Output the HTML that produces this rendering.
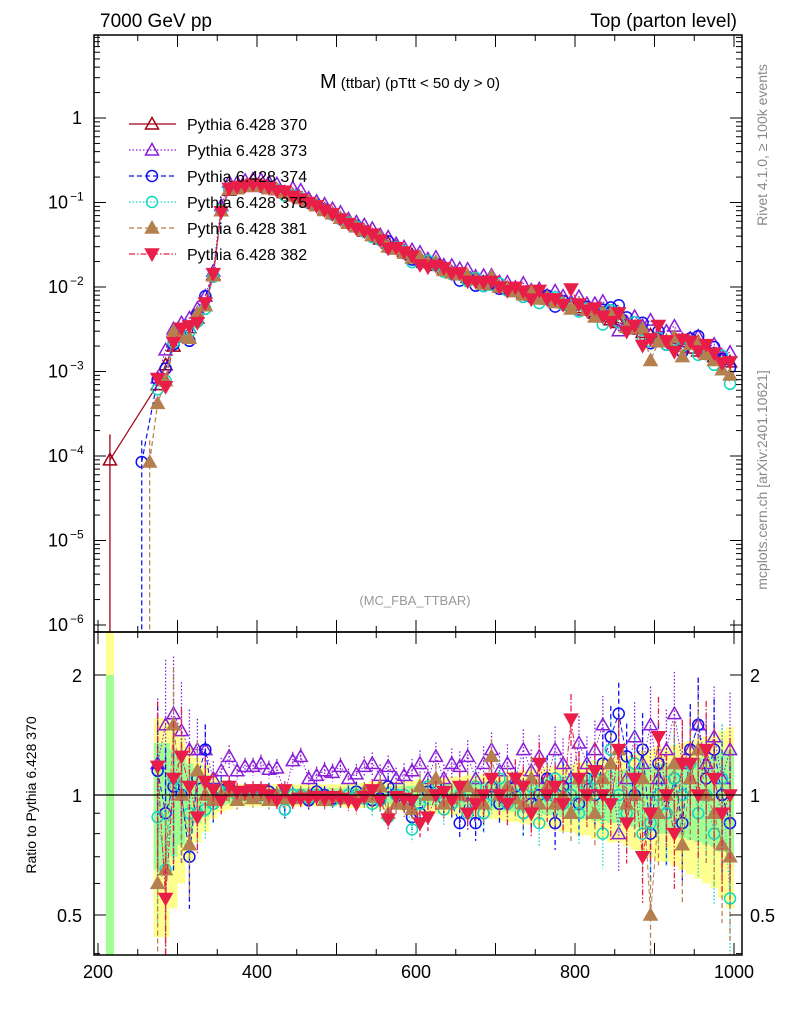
<!DOCTYPE html>
<html><head><meta charset="utf-8"><style>
body{margin:0;background:#fff;}
svg{display:block;font-family:"Liberation Sans",sans-serif;}
</style></head><body>
<svg id="c" width="786" height="1024" xmlns="http://www.w3.org/2000/svg">
<defs>
<clipPath id="cm"><rect x="94" y="35" width="648" height="597"/></clipPath>
<clipPath id="cr"><rect x="94" y="632" width="648" height="323"/></clipPath>
</defs>
<g id="bands" clip-path="url(#cr)"></g>
<g id="ratio" clip-path="url(#cr)"></g>
<g id="main" clip-path="url(#cm)"></g>
<g id="axes"></g>
<text x="100" y="27" font-size="19">7000 GeV pp</text>
<text x="737" y="27" font-size="19" text-anchor="end">Top (parton level)</text>
<text x="410" y="88" text-anchor="middle"><tspan font-size="20">M</tspan><tspan font-size="15"> (ttbar) (pTtt &lt; 50 dy &gt; 0)</tspan></text>
<text x="415" y="605" font-size="13" fill="#999" text-anchor="middle">(MC_FBA_TTBAR)</text>
<text transform="translate(767,145) rotate(-90)" font-size="14" fill="#888" text-anchor="middle">Rivet 4.1.0, ≥ 100k events</text>
<text transform="translate(767,480) rotate(-90)" font-size="14" fill="#888" text-anchor="middle">mcplots.cern.ch [arXiv:2401.10621]</text>
<text transform="translate(36,795) rotate(-90)" font-size="14" text-anchor="middle">Ratio to Pythia 6.428 370</text>
<g id="legend"></g>
</svg>
<script>
const centers=[275,285,295,305,315,325,335,345,355,365,375,385,395,405,415,425,435,445,455,465,475,485,495,505,515,525,535,545,555,565,575,585,595,605,615,625,635,645,655,665,675,685,695,705,715,725,735,745,755,765,775,785,795,805,815,825,835,845,855,865,875,885,895,905,915,925,935,945,955,965,975,985,995];
const ref370=[7e-4,1.2e-3,2e-3,2.6e-3,3.3e-3,4.3e-3,6e-3,
1.4e-2,8e-2,1.4e-1,1.5e-1,1.55e-1,1.6e-1,1.55e-1,1.5e-1,1.42e-1,1.32e-1,1.22e-1,1.12e-1,
1.02e-1,9.2e-2,8.3e-2,7.4e-2,6.5e-2,5.8e-2,5.2e-2,4.6e-2,4.1e-2,3.7e-2,3.3e-2,2.95e-2,
2.65e-2,2.4e-2,2.15e-2,1.95e-2,1.8e-2,1.65e-2,1.5e-2,1.4e-2,1.3e-2,1.22e-2,1.14e-2,1.06e-2,
1.0e-2,9.5e-3,9e-3,8.5e-3,8e-3,7.6e-3,7.2e-3,6.9e-3,6.5e-3,6.1e-3,5.7e-3,5.3e-3,
4.9e-3,4.5e-3,4.1e-3,3.8e-3,3.5e-3,3.2e-3,2.9e-3,2.7e-3,2.5e-3,2.3e-3,2.15e-3,2e-3,
1.9e-3,1.75e-3,1.6e-3,1.5e-3,1.4e-3,1.3e-3];
const firstBin370=[215,9e-5];
const lowPts=[[255,8.5e-5,'s374'],[265,8.5e-5,'s381']];
const r373=[1.2,1.5,1.6,1.45,1.3,1.3,1.3,
1.1,1.15,1.25,1.15,1.18,1.18,1.2,1.16,1.17,1.0,1.22,1.25,
1.1,1.12,1.15,1.14,1.18,1.1,1.13,1.18,1.2,1.12,1.18,1.1,
1.12,1.15,1.2,1.1,1.25,1.1,1.2,1.18,1.25,1.1,1.2,1.3,
1.15,1.2,1.1,1.3,1.15,1.25,1.1,1.3,1.2,1.1,1.35,1.2,
1.3,1.5,1.2,0.8,1.1,1.4,1.2,1.5,1.1,1.3,1.6,1.2,
1.3,1.5,1.2,1.4,1.1,1.3];
const r374=[1.15,0.9,1.05,1.0,0.7,1.1,1.3,
0.95,1.03,1.05,1.0,1.02,1.0,1.0,1.02,1.0,0.92,1.0,1.0,
0.97,1.02,1.0,0.98,0.98,1.0,1.02,1.0,0.97,0.98,1.05,1.0,
0.95,0.88,0.9,1.02,1.05,0.98,0.95,0.85,1.0,0.85,0.9,1.05,
0.95,1.0,1.05,0.9,0.95,1.0,1.1,0.85,1.05,1.0,0.95,1.1,
1.0,1.2,1.4,1.6,1.25,1.0,1.3,0.8,1.2,0.9,1.1,0.85,
1.3,1.5,1.1,1.3,1.0,0.85];
const r375=[0.88,0.65,1.1,1.05,0.9,0.9,0.92,
0.95,1.02,1.03,1.0,1.02,1.0,1.02,0.98,1.0,0.92,1.0,1.0,
0.98,1.0,0.98,0.97,0.98,1.0,1.0,0.98,0.95,0.97,0.88,1.0,
1.0,0.82,0.95,1.05,1.0,0.92,0.95,1.0,0.9,1.05,0.9,1.0,
1.1,0.95,1.0,0.9,1.05,0.85,1.0,1.1,0.95,1.0,0.9,1.05,
1.1,0.8,1.3,1.0,0.9,1.2,0.8,0.85,1.0,0.9,1.1,1.0,
1.2,0.9,1.0,0.8,1.1,0.55];
const r381=[0.6,0.65,1.5,1.0,0.75,1.15,1.0,
0.97,1.0,1.02,0.97,1.0,0.98,1.0,0.97,1.0,0.98,0.98,1.0,
1.0,1.0,0.97,0.99,1.0,0.98,0.99,1.02,0.99,1.05,0.9,0.95,
0.95,0.92,1.05,1.0,1.1,0.95,0.98,1.0,1.05,1.0,0.95,1.25,
1.0,1.05,0.98,0.95,1.1,0.95,1.05,0.95,1.0,0.9,1.1,1.0,
0.9,1.1,1.2,1.3,0.95,1.0,1.1,0.5,0.9,1.0,1.2,0.75,
1.1,1.3,1.0,0.9,0.75,0.7];
const r382=[1.18,0.55,1.1,1.25,1.05,0.88,1.08,
1.03,0.97,1.05,1.02,1.02,1.03,1.03,1.0,0.97,1.03,0.97,0.98,
0.98,0.99,0.98,0.99,0.98,0.97,0.95,0.99,1.03,0.97,0.87,0.99,
0.98,0.97,0.85,0.88,1.0,1.02,0.97,1.05,0.9,0.95,1.0,1.1,
1.0,0.95,1.1,1.05,0.9,1.2,1.0,1.05,0.95,1.55,1.1,1.0,
1.15,1.0,0.95,1.3,0.85,1.1,0.7,0.9,1.4,1.0,0.8,1.2,
1.2,1.0,1.3,1.1,0.9,1.0];
const relErr=[0.35,0.35,0.3,0.25,0.2,0.15,0.12,
0.08,0.06,0.05,0.04,0.04,0.04,0.04,0.04,0.04,0.04,0.04,0.04,
0.04,0.04,0.04,0.04,0.04,0.045,0.045,0.045,0.05,0.05,0.05,0.05,
0.055,0.055,0.06,0.06,0.065,0.065,0.07,0.07,0.075,0.075,0.08,0.08,
0.085,0.09,0.09,0.095,0.1,0.1,0.11,0.11,0.12,0.12,0.13,0.13,
0.14,0.14,0.15,0.15,0.16,0.17,0.18,0.19,0.2,0.2,0.21,0.22,
0.23,0.24,0.25,0.26,0.28,0.3];
const xTicks=[200,400,600,800,1000];

const NS='http://www.w3.org/2000/svg';
function X(v){return 98+(v-200)*0.795;}
function YM(v){return 118-84.5*Math.log10(v);}
function YR(r){return 795-398.6*Math.log10(r);}
function mk(tag,at,parent){const e=document.createElementNS(NS,tag);for(const k in at)e.setAttribute(k,at[k]);parent.appendChild(e);return e;}

const series=[
 {id:'s370',label:'Pythia 6.428 370',color:'#a00018',dash:'',shape:'tri',fill:false,ratio:null},
 {id:'s373',label:'Pythia 6.428 373',color:'#8a1ed8',dash:'1.5,2',shape:'tri',fill:false,ratio:r373},
 {id:'s374',label:'Pythia 6.428 374',color:'#1010f0',dash:'5,3',shape:'circ',fill:false,ratio:r374},
 {id:'s375',label:'Pythia 6.428 375',color:'#10d8c0',dash:'1.5,2',shape:'circ',fill:false,ratio:r375},
 {id:'s381',label:'Pythia 6.428 381',color:'#b5804f',dash:'5,3',shape:'tri',fill:true,ratio:r381},
 {id:'s382',label:'Pythia 6.428 382',color:'#e81e48',dash:'6,2,1.5,2',shape:'itri',fill:true,ratio:r382}];

function marker(g,s,x,y){
 const f=s.fill?s.color:'none';
 let e;
 if(s.shape==='circ') e=mk('circle',{cx:x,cy:y,r:5.5,fill:f,stroke:s.color,'stroke-width':1.5},g);
 else if(s.shape==='tri') e=mk('path',{d:`M${x},${y-6.5}L${x+6.5},${y+5}L${x-6.5},${y+5}Z`,fill:f,stroke:s.color,'stroke-width':1.5},g);
 else e=mk('path',{d:`M${x},${y+6.5}L${x+6.5},${y-5}L${x-6.5},${y-5}Z`,fill:f,stroke:s.color,'stroke-width':1.5},g);
 
 
}

const gb=document.getElementById('bands');
{const r1=mk('rect',{x:X(210),y:632,width:8,height:323,fill:'#a0ff90'},gb);
 
 const r2=mk('rect',{x:X(210),y:632,width:8,height:43,fill:'#ffff90'},gb);
 }
centers.forEach((c,i)=>{const e=relErr[i];
 const y1=mk('rect',{x:X(c-5),y:YR(1+1.6*e),width:8,height:YR(Math.max(1-1.6*e,0.05))-YR(1+1.6*e),fill:'#ffff90'},gb);
 });
centers.forEach((c,i)=>{const e=relErr[i];
 const g1=mk('rect',{x:X(c-5),y:YR(1+e),width:8,height:YR(1-e)-YR(1+e),fill:'#a0ff90'},gb);
 });

const gr=document.getElementById('ratio');
series.forEach(s=>{
 const g=mk('g',{},gr);
 
 
 const rv=s.ratio||centers.map(()=>1);
 if(s.ratio){
  const pts=centers.map((c,i)=>X(c)+','+YR(rv[i])).join(' ');
  mk('polyline',{points:pts,fill:'none',stroke:s.color,'stroke-width':1,'stroke-dasharray':s.dash},g);
  centers.forEach((c,i)=>{const e=relErr[i]*1.3*rv[i];
   mk('line',{x1:X(c),x2:X(c),y1:YR(rv[i]+e),y2:YR(Math.max(rv[i]-e,0.05)),stroke:s.color,'stroke-width':1.3,'stroke-dasharray':s.dash||''},g);
   marker(g,s,X(c),YR(rv[i]));});
 }
});
mk('line',{x1:94,x2:742,y1:YR(1),y2:YR(1),stroke:'#000','stroke-width':1.2},gr);

const gm=document.getElementById('main');
series.forEach(s=>{
 const g=mk('g',{},gm);
 
 
 const rv=s.ratio||centers.map(()=>1);
 const vals=centers.map((c,i)=>ref370[i]*rv[i]);
 let pts=centers.map((c,i)=>X(c)+','+YM(vals[i]));
 if(s.id==='s370'){pts.unshift(X(firstBin370[0])+','+YM(firstBin370[1]));
  mk('line',{x1:X(firstBin370[0]),x2:X(firstBin370[0]),y1:YM(1.8e-4),y2:640,stroke:s.color,'stroke-width':1.3},g);}
 lowPts.forEach(p=>{if(p[2]===s.id){pts.unshift(X(p[0])+','+YM(p[1]));
  mk('line',{x1:X(p[0]),x2:X(p[0]),y1:YM(p[1]*1.8),y2:640,stroke:s.color,'stroke-width':1.3,'stroke-dasharray':s.dash},g);}});
 mk('polyline',{points:pts.join(' '),fill:'none',stroke:s.color,'stroke-width':1.2,'stroke-dasharray':s.dash},g);
 if(s.id==='s370') marker(g,s,X(firstBin370[0]),YM(firstBin370[1]));
 lowPts.forEach(p=>{if(p[2]===s.id)marker(g,s,X(p[0]),YM(p[1]));});
 centers.forEach((c,i)=>marker(g,s,X(c),YM(vals[i])));
});

const ga=document.getElementById('axes');
mk('rect',{x:94,y:35,width:648,height:597,fill:'none',stroke:'#000','stroke-width':1.5},ga);
mk('rect',{x:94,y:632,width:648,height:323,fill:'none',stroke:'#000','stroke-width':1.5},ga);
for(let v=200;v<=1010;v+=50){const maj=v%100===0;const L=maj?12:6;
 [[35,1],[632,-1],[632,1],[955,-1]].forEach(([y,d])=>mk('line',{x1:X(v),x2:X(v),y1:y,y2:y+d*L,stroke:'#000','stroke-width':1},ga));}
xTicks.forEach(v=>{const t=mk('text',{x:X(v),y:978,'font-size':18,'text-anchor':'middle'},ga);t.textContent=v;
 });
for(let d=-6;d<=0;d++){for(let m=1;m<10;m++){const v=m*Math.pow(10,d);const y=YM(v);if(y<35||y>632)continue;
 const L=m===1?12:6;mk('line',{x1:94,x2:94+L,y1:y,y2:y,stroke:'#000'},ga);mk('line',{x1:742,x2:742-L,y1:y,y2:y,stroke:'#000'},ga);}}
const yl=[[0,'1',null],[-1,'10','−1'],[-2,'10','−2'],[-3,'10','−3'],[-4,'10','−4'],[-5,'10','−5'],[-6,'10','−6']];
yl.forEach(([d,b,e])=>{const t=mk('text',{x:e?68:82,y:YM(Math.pow(10,d))+6,'font-size':18,'text-anchor':'end'},ga);t.textContent=b;
 
 if(e){const s=mk('text',{x:70,y:YM(Math.pow(10,d))-2,'font-size':12},ga);s.textContent=e;}});
[0.4,0.5,0.6,0.7,0.8,0.9,1,2].forEach(r=>{const y=YR(r);const L=(r===0.5||r===1||r===2)?12:6;
 mk('line',{x1:94,x2:94+L,y1:y,y2:y,stroke:'#000'},ga);mk('line',{x1:742,x2:742-L,y1:y,y2:y,stroke:'#000'},ga);});
[[2,'2'],[1,'1'],[0.5,'0.5']].forEach(([r,s])=>{
 const t=mk('text',{x:82,y:YR(r)+7,'font-size':18,'text-anchor':'end'},ga);t.textContent=s;
 
 const t2=mk('text',{x:750,y:YR(r)+7,'font-size':18},ga);t2.textContent=s;
 });

const gl=document.getElementById('legend');
series.forEach((s,i)=>{const y=124+i*26;
 const g=mk('g',{},gl);
 
 
 mk('line',{x1:129,x2:176,y1:y,y2:y,stroke:s.color,'stroke-width':1.3,'stroke-dasharray':s.dash},g);
 marker(g,s,152,y);
 const t=mk('text',{x:187,y:y+6,'font-size':16},g);t.textContent=s.label;});
</script>
</body></html>
